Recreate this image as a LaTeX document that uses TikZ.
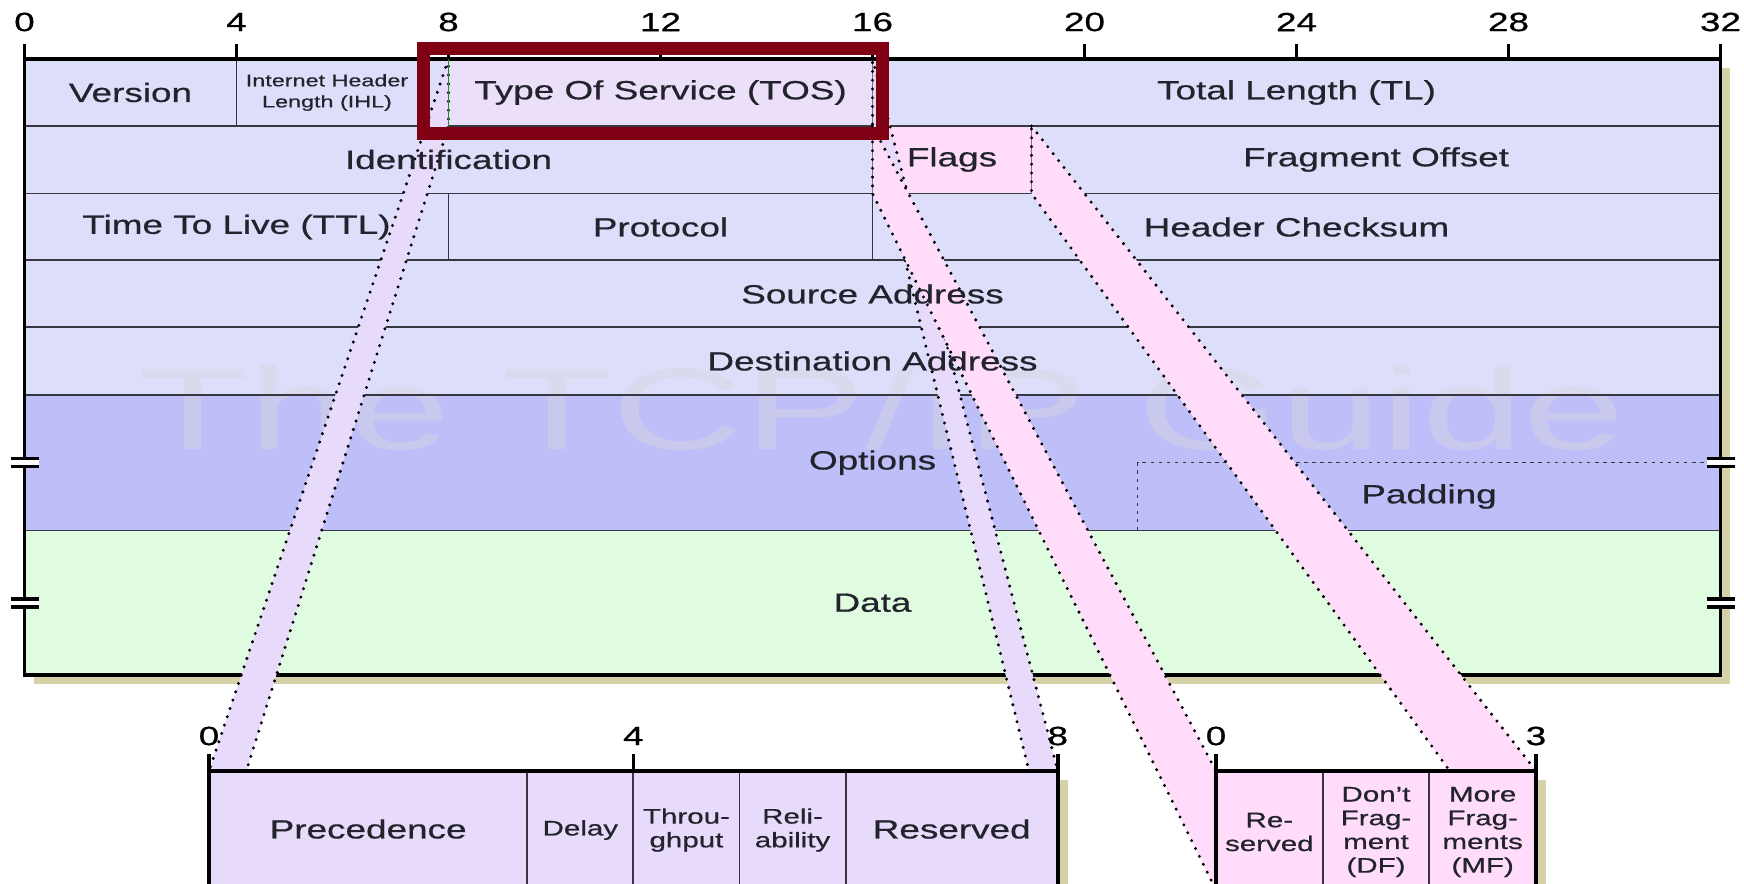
\documentclass[tikz,border=0pt]{standalone}
\usepackage{fontspec}
\setmainfont{Liberation Sans}[FakeStretch=1.4, FakeBold=0.6]
\newfontfamily\markfont{Liberation Sans}[FakeStretch=1.57]
\definecolor{rowfill}{RGB}{221,222,250}
\definecolor{optfill}{RGB}{190,191,248}
\definecolor{datafill}{RGB}{224,252,224}
\definecolor{tosfill}{RGB}{236,223,250}
\definecolor{tosband}{RGB}{232,218,250}
\definecolor{flagfill}{RGB}{255,221,250}
\definecolor{shadowtan}{RGB}{214,210,168}
\definecolor{framered}{RGB}{128,0,20}
\definecolor{linegray}{RGB}{55,55,65}
\definecolor{textgray}{RGB}{35,35,45}
\definecolor{ihlgreen}{RGB}{30,140,30}
\definecolor{markgray}{RGB}{215,215,225}
\newcommand{\bitx}[1]{24.5+53*#1}
\newcommand{\tsx}[1]{209+106.1*#1}
\newcommand{\fsx}[1]{1216+106.67*#1}

\begin{document}
\begin{tikzpicture}[x=0.02cm, y=-0.02cm,
    fieldline/.style={draw=linegray, line width=1.1pt},
    outerline/.style={draw=black, line width=2pt},
    tickmark/.style={black, line width=2pt},
    paddash/.style={linegray, line width=0.8pt, dash pattern=on 2pt off 2.6pt},
    bandedge/.style={draw=black, line width=1.9pt, line cap=round, dash pattern=on 0pt off 5pt},
    fieldtext/.style={font=\fontsize{15}{18}\selectfont, text=textgray, inner sep=0pt},
    smalltext/.style={font=\fontsize{12}{13.5}\selectfont, text=textgray, align=center, inner sep=0pt},
    ihltext/.style={font=\fontsize{9.5}{12}\selectfont, text=textgray, align=center, inner sep=0pt},
    bitnum/.style={font=\fontsize{15}{18}\selectfont, inner sep=0pt}]
  \useasboundingbox (0,0) rectangle (1744,883);
  \clip (0,0) rectangle (1744,883);

  % shadows
  \fill[shadowtan] ({\bitx{0}+9},68) rectangle ({\bitx{32}+9},684);
  \fill[shadowtan] ({\tsx{8}},780) rectangle ({\tsx{8}+10},900);
  \fill[shadowtan] ({\fsx{3}},780) rectangle ({\fsx{3}+10},900);

  % field fills
  \fill[rowfill] ({\bitx{0}},59) rectangle ({\bitx{32}},394.8);
  \fill[tosfill] ({\bitx{8}},59) rectangle ({\bitx{16}},126);
  \fill[flagfill] ({\bitx{16}},126) rectangle ({\bitx{19}},193.5);
  \fill[optfill] ({\bitx{0}},394.8) rectangle ({\bitx{32}},530.5);
  \fill[datafill] ({\bitx{0}},530.5) rectangle ({\bitx{32}},675);

  \node[font={\markfont\fontsize{66}{70}\selectfont}, text=markgray, opacity=0.45] (mark) at (881,408) {The TCP/IP Guide};

  % rows and fields
  \foreach \yy in {126,193.5,260.3,327,394.8,530.5}
    \draw[fieldline] ({\bitx{0}},\yy) -- ({\bitx{32}},\yy);
  \foreach \b/\ya/\yb in {4/59/126, 8/59/126, 16/59/126, 16/126/193.5, 19/126/193.5, 8/193.5/260.3, 16/193.5/260.3}
    \draw[fieldline] ({\bitx{\b}},\ya) -- ({\bitx{\b}},\yb);
  \draw[paddash] ({\bitx{21}},530.5) -- ({\bitx{21}},462.7) -- ({\bitx{32}},462.7);
  \draw[outerline] ({\bitx{0}},59) rectangle ({\bitx{32}},675);

  \node[ihltext] (ihl) at (327,92.5) {Internet Header\\Length (IHL)};

  % corners for the zoom bands
  \coordinate (tosNW) at ({\bitx{8}},59);
  \coordinate (tosSW) at ({\bitx{8}},126);
  \coordinate (tosNE) at ({\bitx{16}},59);
  \coordinate (tosSE) at ({\bitx{16}},126);
  \coordinate (flgNW) at ({\bitx{16}},126);
  \coordinate (flgSW) at ({\bitx{16}},193.5);
  \coordinate (flgNE) at ({\bitx{19}},126);
  \coordinate (flgSE) at ({\bitx{19}},193.5);
  \coordinate (tsubNW) at ({\tsx{0}},771);
  \coordinate (tsubSW) at ({\tsx{0}},890);
  \coordinate (tsubNE) at ({\tsx{8}},771);
  \coordinate (tsubSE) at ({\tsx{8}},890);
  \coordinate (fsubNW) at ({\fsx{0}},771);
  \coordinate (fsubSW) at ({\fsx{0}},890);
  \coordinate (fsubNE) at ({\fsx{3}},771);
  \coordinate (fsubSE) at ({\fsx{3}},890);

  \filldraw[fill=tosband, bandedge] (tosNW) -- (tsubNW) -- (tsubSW) -- (tosSW) -- cycle;
  \filldraw[fill=tosband, bandedge] (tosNE) -- (tsubNE) -- (tsubSE) -- (tosSE) -- cycle;
  \filldraw[fill=flagfill, bandedge] (flgNW) -- (fsubNW) -- (fsubSW) -- (flgSW) -- cycle;
  \filldraw[fill=flagfill, bandedge] (flgNE) -- (fsubNE) -- (fsubSE) -- (flgSE) -- cycle;

  % header texts
  \node[fieldtext] (version) at ({\bitx{2}},92.5) {Version};
  \node[fieldtext] (tos) at ({\bitx{12}},92.5) {Type Of Service (TOS)};
  \node[fieldtext] (totlen) at ({\bitx{24}},92.5) {Total Length (TL)};
  \node[fieldtext] (ident) at ({\bitx{8}},159.5) {Identification};
  \node[fieldtext] (flags) at ({\bitx{17.5}},159.5) {Flags};
  \node[fieldtext] (fragoff) at ({\bitx{25.5}},159.5) {Fragment Offset};
  \node[fieldtext] (ttl) at ({\bitx{4}},227) {Time To Live (TTL)};
  \node[fieldtext] (proto) at ({\bitx{12}},227) {Protocol};
  \node[fieldtext] (hcsum) at ({\bitx{24}},227) {Header Checksum};
  \node[fieldtext] (srcaddr) at ({\bitx{16}},294) {Source Address};
  \node[fieldtext] (dstaddr) at ({\bitx{16}},361) {Destination Address};
  \node[fieldtext] (options) at ({\bitx{16}},462.7) {Options};
  \node[fieldtext] (padding) at ({\bitx{26.5}},496.5) {Padding};
  \node[fieldtext] (data) at ({\bitx{16}},602.8) {Data};

  % TOS bits
  \fill[tosband] (tsubNW) rectangle (tsubSE);
  \foreach \b in {3,4,5,6}
    \draw[fieldline] ({\tsx{\b}},771) -- ({\tsx{\b}},890);
  \draw[outerline] (tsubSW) -- (tsubNW) -- (tsubNE) -- (tsubSE);
  \node[fieldtext] (prec) at ({\tsx{1.5}},829) {Precedence};
  \node[smalltext] (delay) at ({\tsx{3.5}},830) {Delay};
  \node[smalltext] (thru) at ({\tsx{4.5}},830) {Throu-\\ghput};
  \node[smalltext] (reli) at ({\tsx{5.5}},830) {Reli-\\ability};
  \node[fieldtext] (tosres) at ({\tsx{7}},829) {Reserved};

  % flag bits
  \fill[flagfill] (fsubNW) rectangle (fsubSE);
  \foreach \b in {1,2}
    \draw[fieldline] ({\fsx{\b}},771) -- ({\fsx{\b}},890);
  \draw[outerline] (fsubSW) -- (fsubNW) -- (fsubNE) -- (fsubSE);
  \node[smalltext] (fres) at ({\fsx{0.5}},832) {Re-\\served};
  \node[smalltext] (fdf) at ({\fsx{1.5}},832) {Don't\\Frag-\\ment\\(DF)};
  \node[smalltext] (fmf) at ({\fsx{2.5}},832) {More\\Frag-\\ments\\(MF)};

  % bit numbers
  \foreach \b in {0,4,...,32} {
    \draw[tickmark] ({\bitx{\b}},44) -- ({\bitx{\b}},59);
    \node[bitnum] (n\b) at ({\bitx{\b}},22) {\b};
  }
  \foreach \b in {0,4,8} {
    \draw[tickmark] ({\tsx{\b}},754) -- ({\tsx{\b}},771);
    \node[bitnum] (t\b) at ({\tsx{\b}},736) {\b};
  }
  \foreach \b in {0,3} {
    \draw[tickmark] ({\fsx{\b}},754) -- ({\fsx{\b}},771);
    \node[bitnum] (f\b) at ({\fsx{\b}},736) {\b};
  }

  % break marks
  \foreach \yy in {462.7,602.8}
    \foreach \xx in {24.5,1720.5} {
      \fill[white] (\xx-14,\yy-4) rectangle (\xx+14,\yy+4);
      \draw[tickmark] (\xx-14,\yy-4) -- (\xx+14,\yy-4) (\xx-14,\yy+4) -- (\xx+14,\yy+4);
    }

  \draw[ihlgreen, line width=0.8pt] (tosNW) -- (tosSW);
  \draw[framered, line width=7.4pt] (423.5,48) rectangle (882,133);
\end{tikzpicture}
\end{document}
